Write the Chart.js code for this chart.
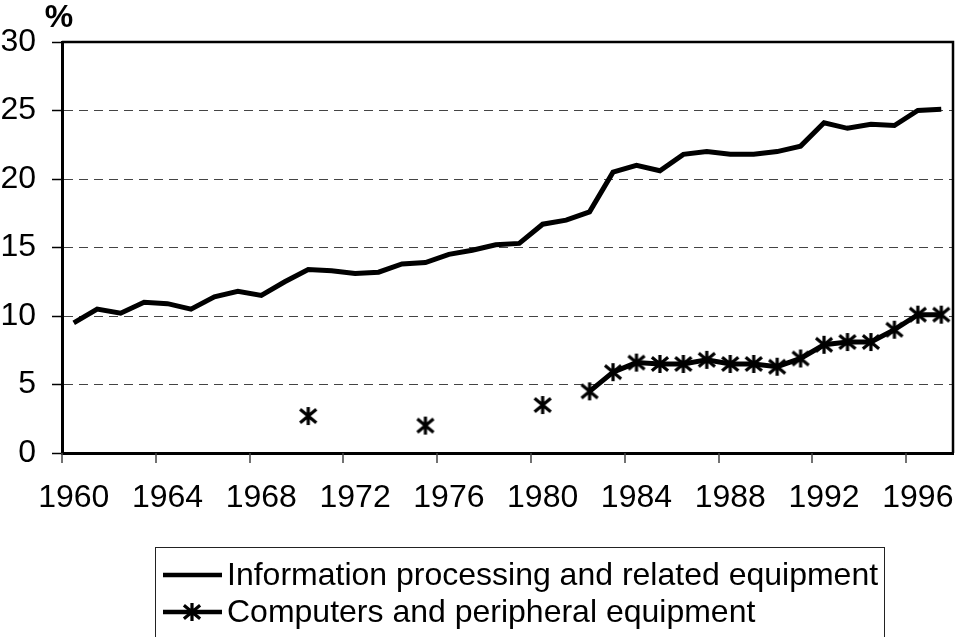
<!DOCTYPE html>
<html>
<head>
<meta charset="utf-8">
<script src="https://cdn.jsdelivr.net/npm/chart.js@4/dist/chart.umd.min.js"></script>
<style>
  html, body { margin: 0; padding: 0; background: #fff; }
</style>
</head>
<body>
<canvas id="myChart" width="955" height="637"></canvas>
<script>
// data
const years = ['1960', '1961', '1962', '1963', '1964', '1965', '1966', '1967', '1968', '1969',
  '1970', '1971', '1972', '1973', '1974', '1975', '1976', '1977', '1978', '1979',
  '1980', '1981', '1982', '1983', '1984', '1985', '1986', '1987', '1988', '1989',
  '1990', '1991', '1992', '1993', '1994', '1995', '1996', '1997']
const infoProcessing = [9.5, 10.5, 10.2, 11.0, 10.9, 10.5, 11.4, 11.8, 11.5, 12.5,
  13.4, 13.3, 13.1, 13.2, 13.8, 13.9, 14.5, 14.8, 15.2, 15.3,
  16.7, 17.0, 17.6, 20.5, 21.0, 20.6, 21.8, 22.0, 21.8, 21.8,
  22.0, 22.4, 24.1, 23.7, 24.0, 23.9, 25.0, 25.1]
const computers = [null, null, null, null, null, null, null, null, null, null,
  2.7, null, null, null, null, 2.0, null, null, null, null,
  3.5, null, 4.5, 5.9, 6.6, 6.5, 6.5, 6.8, 6.5, 6.5,
  6.3, 6.9, 7.9, 8.1, 8.1, 9.0, 10.1, 10.1]
const seriesNames = ['Information processing and related equipment', 'Computers and peripheral equipment']
const yMin = 0, yMax = 30, yStep = 5
const labelEvery = 4
const unitLabel = '%'

const FONT = "'Liberation Sans', Arial, sans-serif"

// asterisk marker like the excel one (vertical bar + x)
function makeStar(size, lw) {
  const c = document.createElement('canvas')
  c.width = size; c.height = size
  const g = c.getContext('2d')
  const m = size / 2, r = size / 2 - 1
  g.strokeStyle = '#000'
  g.lineWidth = lw
  g.beginPath()
  g.moveTo(m, m - r); g.lineTo(m, m + r)
  g.moveTo(m - r * 0.9, m - r * 0.75); g.lineTo(m + r * 0.9, m + r * 0.75)
  g.moveTo(m + r * 0.9, m - r * 0.75); g.lineTo(m - r * 0.9, m + r * 0.75)
  g.stroke()
  return c
}
const star = makeStar(20, 3.2)

// frame, x tick marks, unit label and boxed legend
const extras = {
  id: 'extras',
  afterDraw(chart) {
    const ctx = chart.ctx
    const a = chart.chartArea
    const xs = chart.scales.x
    ctx.save()
    ctx.strokeStyle = '#000'
    ctx.lineWidth = 2.5
    ctx.beginPath()
    ctx.moveTo(a.left, a.top)
    ctx.lineTo(a.right, a.top)
    ctx.lineTo(a.right, a.bottom)
    ctx.stroke()

    // tick marks between categories, every 4th
    ctx.strokeStyle = '#444'
    ctx.lineWidth = 1.5
    ctx.beginPath()
    for (let i = 0; i < years.length; i += labelEvery) {
      const px = i === 0 ? a.left : Math.round((xs.getPixelForTick(i - 1) + xs.getPixelForTick(i)) / 2)
      ctx.moveTo(px, a.bottom)
      ctx.lineTo(px, a.bottom + 10)
    }
    ctx.stroke()

    ctx.fillStyle = '#000'
    ctx.font = 'bold 32px ' + FONT
    ctx.textAlign = 'center'
    ctx.textBaseline = 'middle'
    ctx.fillText(unitLabel, 59, 18)

    // legend
    ctx.lineWidth = 1
    ctx.strokeStyle = '#222'
    ctx.strokeRect(155.5, 547.5, 729, 100)
    ctx.font = '32px ' + FONT
    ctx.textAlign = 'left'
    const rows = [575, 612]
    chart.data.datasets.forEach((ds, i) => {
      const y = rows[i]
      ctx.strokeStyle = '#000'
      ctx.lineWidth = 4.5
      ctx.beginPath()
      ctx.moveTo(163, y)
      ctx.lineTo(222, y)
      ctx.stroke()
      if (ds.pointRadius > 0) ctx.drawImage(star, 192 - star.width / 2, y - star.height / 2)
      ctx.fillText(ds.label, 227, y + 1)
    })
    ctx.restore()
  }
}

new Chart(document.getElementById('myChart'), {
  type: 'line',
  data: {
    labels: years,
    datasets: [{
      label: seriesNames[0],
      data: infoProcessing,
      borderColor: '#000',
      borderWidth: 5,
      pointRadius: 0,
      tension: 0
    }, {
      label: seriesNames[1],
      data: computers,
      borderColor: '#000',
      borderWidth: 5,
      pointRadius: 9,
      pointStyle: star,
      tension: 0
    }]
  },
  options: {
    responsive: false,
    animation: false,
    layout: { autoPadding: false, padding: { top: 42, right: 2, bottom: 114, left: 0 } },
    plugins: { legend: { display: false }, tooltip: { enabled: false } },
    scales: {
      x: {
        offset: true,
        grid: {
          drawOnChartArea: false,
          tickLength: 10,
          tickColor: 'rgba(0,0,0,0)',
          color: 'rgba(0,0,0,0)'
        },
        border: { color: '#000', width: 3 },
        ticks: {
          autoSkip: false,
          maxRotation: 0,
          padding: 16,
          color: '#000',
          font: { family: FONT, size: 32 },
          callback: function (v, i) { return i % labelEvery === 0 ? this.getLabelForValue(v) : '' }
        },
        afterFit: s => { s.height = 70; s.paddingLeft = 0; s.paddingRight = 0 }
      },
      y: {
        min: yMin,
        max: yMax,
        grid: { color: '#444', lineWidth: 1, tickColor: '#000', tickLength: 10, tickWidth: 1.5 },
        border: { color: '#000', width: 3, dash: [9, 6] },
        ticks: {
          stepSize: yStep,
          padding: 16,
          color: '#000',
          font: { family: FONT, size: 32 }
        },
        afterFit: s => { s.width = 62; s.paddingTop = 0; s.paddingBottom = 0 }
      }
    }
  },
  plugins: [extras]
})
</script>
</body>
</html>
